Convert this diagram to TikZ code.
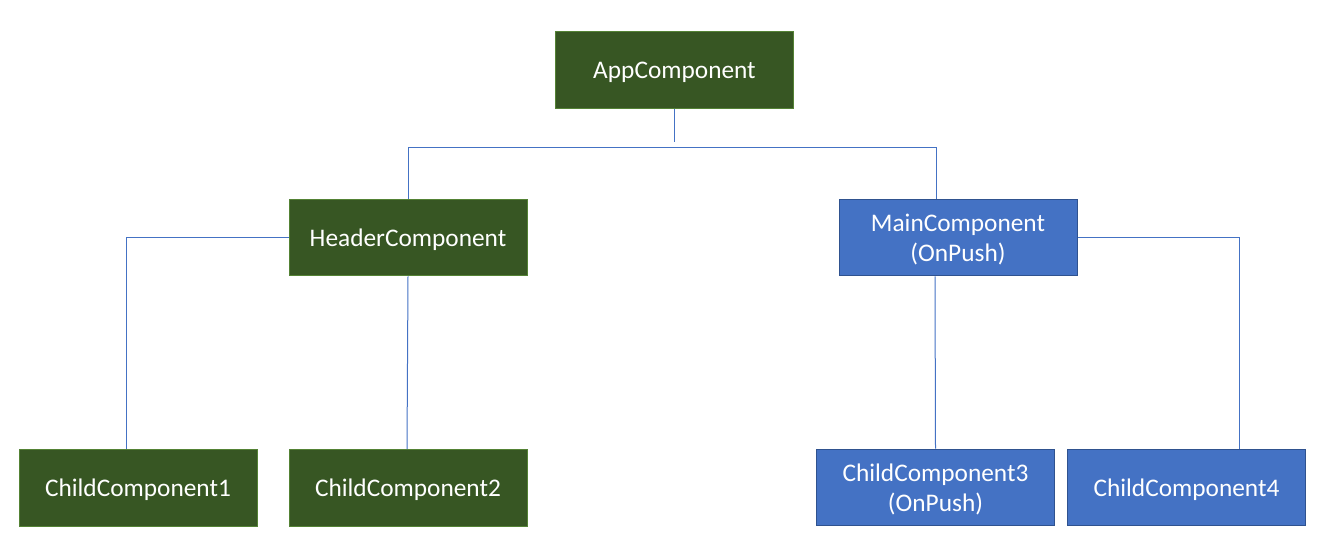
\documentclass[tikz,border=0pt]{standalone}
\usepackage{fontspec}
\setmainfont{Carlito}
\definecolor{treegreen}{HTML}{375623}
\definecolor{treegreenline}{HTML}{548235}
\definecolor{treeblue}{HTML}{4472C4}
\definecolor{treeblueline}{HTML}{2F528F}
\begin{document}
\begin{tikzpicture}[x=0.75pt, y=-0.75pt,
    comp/.style={draw, line width=0.75pt, text=white, align=center, minimum width=178.5pt, minimum height=57.5pt, inner sep=2pt, text depth=0pt, font=\fontsize{19}{22.5}\selectfont},
    greencomp/.style={comp, fill=treegreen, draw=treegreenline},
    bluecomp/.style={comp, fill=treeblue, draw=treeblueline},
    link/.style={treeblue, line width=0.75pt}]
    \useasboundingbox (0,0) rectangle (1317,543);

    % --- top level ---
    \node[greencomp] (app) at (674.5, 70) {AppComponent};
    \node[greencomp] (header) at (408, 237.5) {HeaderComponent};
    \node[bluecomp] (main) at (958, 237.5) {MainComponent\\(OnPush)};

    % --- children ---
    \node[greencomp] (child1) at (138, 488) {ChildComponent1};
    \node[greencomp] (child2) at (408, 488) {ChildComponent2};
    \node[bluecomp] (child3) at (935.5, 487.5) {ChildComponent3\\(OnPush)};
    \node[bluecomp] (child4) at (1186.5, 487.5) {ChildComponent4};

    % Connectors
    \coordinate (appstub) at (674.5, 142);
    \draw[link] (app.south) -- (appstub);
    \draw[link] (header.north) -- ++(0,-51) -| ([xshift=-16.5pt]main.north);
    \draw[link] (header.west) -| ([xshift=-9pt]child1.north);
    \draw[link] (header.south) -- ([xshift=-0.75pt]child2.north);
    \draw[link] ([xshift=-17.25pt]main.south) -- (child3.north);
    \draw[link] (main.east) -| ([xshift=40pt]child4.north);
\end{tikzpicture}
\end{document}
